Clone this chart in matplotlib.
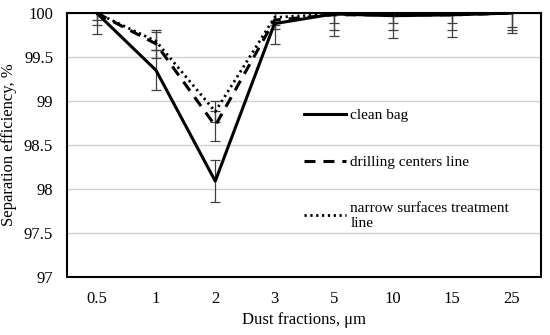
import matplotlib.pyplot as plt
from matplotlib.lines import Line2D

fractions = ["0.5", "1", "2", "3", "5", "10", "15", "25"]

clean_bag = [100.0, 99.35, 98.09, 99.88, 99.99, 99.97, 99.98, 100.0]
drilling = [100.0, 99.65, 98.72, 99.92, 99.98, 99.98, 99.98, 100.0]
narrow = [100.0, 99.68, 98.88, 99.95, 99.99, 99.99, 99.99, 100.0]

clean_err = [0.24, 0.23, 0.24, 0.23, 0.25, 0.25, 0.25, 0.23]
drilling_err = [0.14, 0.16, 0.17, 0.10, 0.17, 0.17, 0.17, 0.16]
narrow_err = [0.08, 0.10, 0.12, 0.08, 0.10, 0.10, 0.10, 0.19]

labels = ["clean bag", "drilling centers line", "narrow surfaces treatment\nline"]

plt.rcParams["font.family"] = ["Liberation Serif", "DejaVu Serif"]

fig = plt.figure(figsize=(5.5, 3.35), dpi=100)
ax = fig.add_axes([0.122, 0.173, 0.862, 0.788])

x = list(range(len(fractions)))
styles = ["-", (0, (3.6, 2.6)), (0, (0.8, 1.3))]
widths = [2.2, 2.2, 2.0]
series = [clean_bag, drilling, narrow]
errs = [clean_err, drilling_err, narrow_err]

for vals, err, ls, lw in zip(series, errs, styles, widths):
    ax.plot(x, vals, color="black", linestyle=ls, linewidth=lw, zorder=3)
    ax.errorbar(x, vals, yerr=err, fmt="none", ecolor="#404040",
                elinewidth=0.9, capsize=3.5, capthick=0.9, zorder=2)

ax.set_xlim(-0.5, len(fractions) - 0.5)
ax.set_ylim(97, 100)
ax.set_yticks([97, 97.5, 98, 98.5, 99, 99.5, 100])
ax.set_yticklabels(["97", "97.5", "98", "98.5", "99", "99.5", "100"])
ax.set_xticks(x)
ax.set_xticklabels(fractions)
ax.tick_params(length=0, labelsize=12, pad=10)
ax.tick_params(axis="y", pad=10)
ax.yaxis.grid(True, color="#d0d0d0", linewidth=1)
ax.set_axisbelow(True)
for sp in ax.spines.values():
    sp.set_linewidth(1.5)
    sp.set_color("black")

ax.set_xlabel("Dust fractions, μm", fontsize=12, labelpad=4)
ax.set_ylabel("Separation efficiency, %", fontsize=12, labelpad=5)

handles = [Line2D([], [], color="black", linestyle=s, linewidth=w)
           for s, w in zip(styles, widths)]
ax.legend(handles, labels, loc="upper left", bbox_to_anchor=(0.47, 0.69),
          frameon=False, fontsize=11, handlelength=2.75, handletextpad=0.3,
          labelspacing=2.15)

fig.savefig("out.png", dpi=100)
